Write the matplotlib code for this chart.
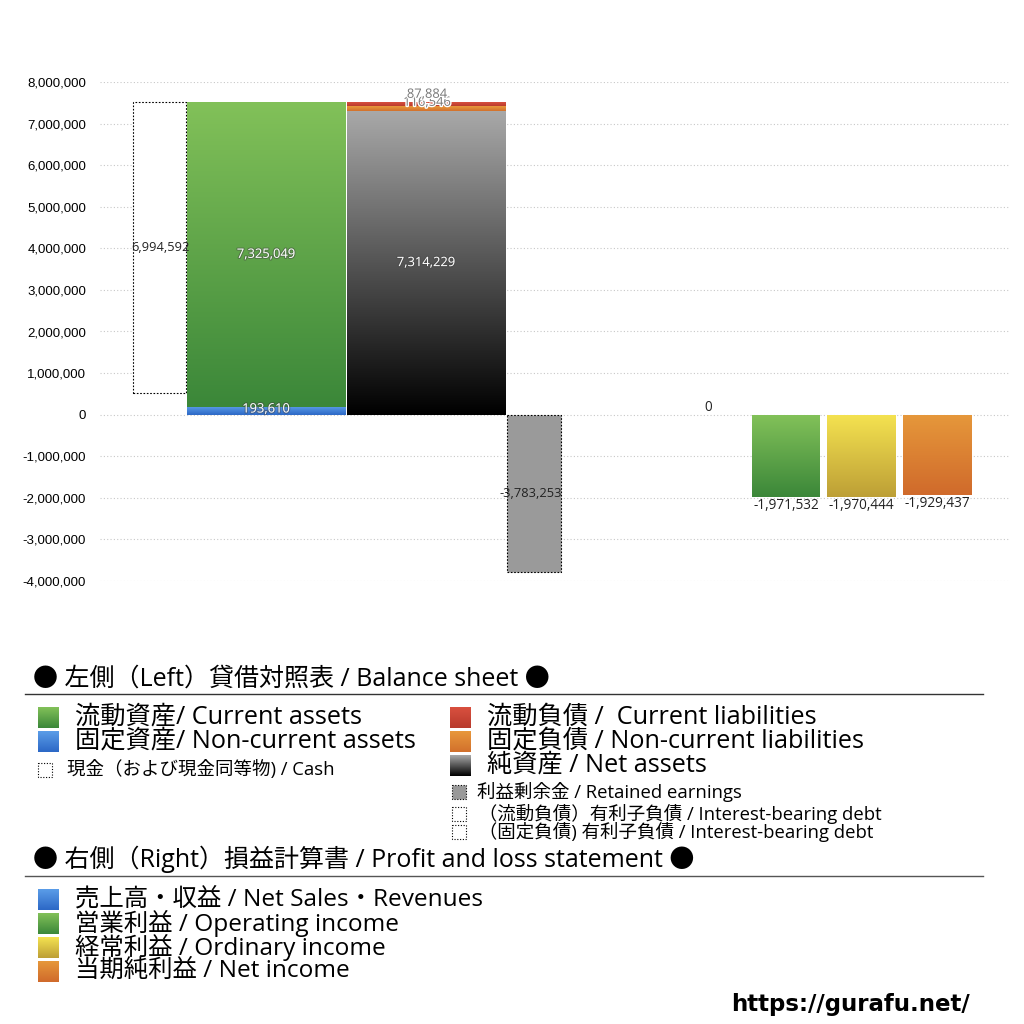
"""
貸借対照表 + 損益計算書 の比較チャート（gurafu.net 風）
出力: out.png
"""

import matplotlib
matplotlib.use("Agg")
import matplotlib.pyplot as plt
import matplotlib.patheffects as pe
import numpy as np
from matplotlib.colors import LinearSegmentedColormap
from matplotlib.patches import Rectangle

plt.rcParams["font.family"] = ["Open Sans", "Noto Sans CJK JP", "DejaVu Sans"]

# 貸借対照表 (Balance sheet)
current_assets = 7325049
noncurrent_assets = 193610
cash = 6994592
current_liab = 87884
noncurrent_liab = 116546
net_assets = 7314229
retained_earnings = -3783253

# 損益計算書 (Profit and loss)
pl_names = ["売上高", "営業利益", "経常利益", "当期純利益"]
pl_values = [0, -1971532, -1970444, -1929437]

y_ticks = list(range(-4000000, 8000001, 1000000))

# 色 (上, 下)
GREEN = ("#82c159", "#3b8739")
BLUE = ("#5b9de8", "#2c68c6")
RED = ("#d9503f", "#b83a2c")
ORANGE = ("#e8983b", "#d2702c")
NET = ("#a9a9a9", "#000000")
YELLOW = ("#f4e250", "#bd9f36")
PL_ORANGE = ("#e6983b", "#d06a2b")
PL_COLORS = [BLUE, GREEN, YELLOW, PL_ORANGE]

W, H = 1024, 1024


def grad_rect(ax, x, y0, y1, width, colors, **kw):
    """縦グラデーションの矩形 (上 -> 下)"""
    lo, hi = min(y0, y1), max(y0, y1)
    bar = ax.bar(x, hi - lo, width=width, bottom=lo, align="edge",
                 color="none", linewidth=0, **kw)[0]
    cmap = LinearSegmentedColormap.from_list("g", [colors[1], colors[0]])
    grad = np.linspace(0, 1, 256).reshape(-1, 1)
    im = ax.imshow(grad, cmap=cmap, aspect="auto", origin="lower",
                   extent=[x, x + width, lo, hi], interpolation="bicubic", zorder=2)
    im.set_clip_path(bar)
    return bar


def grad_square(ax, x, y, size, colors):
    """凡例用の四角 (ピクセル座標, y は下向き)"""
    cmap = LinearSegmentedColormap.from_list("g", [colors[0], colors[1]])
    grad = np.linspace(0, 1, 64).reshape(-1, 1)
    ax.imshow(grad, cmap=cmap, aspect="auto", extent=[x, x + size, y + size, y],
              interpolation="bicubic")


fig = plt.figure(figsize=(W / 100, H / 100), dpi=100)
ax = fig.add_axes([100 / W, 1 - 581 / H, 910 / W, 499 / H])

# --- 左側: 貸借対照表 ---
assets_total = current_assets + noncurrent_assets
cash_bottom = assets_total - cash
ax.bar(133, cash, width=53, bottom=cash_bottom, align="edge", facecolor="white",
       edgecolor="black", linewidth=0.8, linestyle=(0, (1.5, 1.5)), zorder=2)
grad_rect(ax, 187, 0, noncurrent_assets, 159, BLUE)
grad_rect(ax, 187, noncurrent_assets, assets_total, 159, GREEN)

grad_rect(ax, 347, 0, net_assets, 159, NET)
grad_rect(ax, 347, net_assets, net_assets + noncurrent_liab, 159, ORANGE)
grad_rect(ax, 347, net_assets + noncurrent_liab,
          net_assets + noncurrent_liab + current_liab, 159, RED)

ax.bar(507, retained_earnings, width=54, align="edge", facecolor="#9a9a9a",
       edgecolor="black", linewidth=0.8, linestyle=(0, (1.5, 1.5)), zorder=2)

# --- 右側: 損益計算書 ---
pl_x = [708, 752, 827, 903]
pl_w = [0, 68, 69, 69]
for x, w, v, c in zip(pl_x, pl_w, pl_values, PL_COLORS):
    if w > 0:
        grad_rect(ax, x, 0, v, w, c)

# ラベル
shadow = [pe.withStroke(linewidth=1.6, foreground="#444444", alpha=0.45)]
halo = [pe.withStroke(linewidth=2, foreground="white")]
lbl = dict(fontsize=9.3, ha="center", va="center", zorder=5)
ax.text(160, cash_bottom + cash / 2, f"{cash:,}", color="#222222", **lbl)
ax.text(266, noncurrent_assets + current_assets / 2, f"{current_assets:,}",
        color="white", path_effects=shadow, **lbl)
ax.text(266, noncurrent_assets / 2 + 40000, f"{noncurrent_assets:,}",
        color="white", path_effects=shadow, **lbl)
ax.text(426, net_assets / 2, f"{net_assets:,}", color="white",
        path_effects=shadow, **lbl)
ax.text(427, net_assets + noncurrent_liab / 2 + 140000, f"{noncurrent_liab:,}",
        color="#777777", path_effects=halo, **lbl)
ax.text(427, net_assets + noncurrent_liab + current_liab / 2 + 230000,
        f"{current_liab:,}", color="#777777", path_effects=halo, **lbl)
ax.text(531, retained_earnings / 2, f"{retained_earnings:,}", color="#222222", **lbl)

for x, w, v in zip(pl_x, pl_w, pl_values):
    if w > 0:
        ax.annotate(f"{v:,}", (x + w / 2, v), xytext=(0, -1), textcoords="offset points",
                    ha="center", va="top", fontsize=9.8, color="#222222")
    else:
        ax.annotate(f"{v:,}", (x, v), xytext=(0, 0), textcoords="offset points",
                    ha="center", va="bottom", fontsize=9.8, color="#222222")

ax.set_xlim(100, 1010)
ax.set_ylim(-4000000, 8000000)
ax.set_yticks(y_ticks)
ax.set_yticklabels([f"{t:,}" for t in y_ticks], family=["Liberation Sans"], fontsize=9.5)
ax.tick_params(axis="y", length=0, pad=10)
ax.set_xticks([])
ax.grid(axis="y", color="#c8c8c8", linestyle=(0, (1, 2)), linewidth=0.8, zorder=0)
ax.set_axisbelow(True)
for s in ax.spines.values():
    s.set_visible(False)

# --- 凡例 (ピクセル座標) ---
lg = fig.add_axes([0, 0, 1, 1], zorder=-1)
lg.set_xlim(0, W)
lg.set_ylim(H, 0)
lg.axis("off")

big = 18.2
small = 13.3
head = 18
lg.text(33, 679, "● 左側（Left）貸借対照表 / Balance sheet ●", fontsize=head, va="center")
lg.plot([25, 983], [694, 694], color="#333333", lw=1)

left_items = [("流動資産/ Current assets", GREEN, 717),
              ("固定資産/ Non-current assets", BLUE, 741)]
for text, c, y in left_items:
    grad_square(lg, 38, y - 10, 21, c)
    lg.text(75, y, text, fontsize=big, va="center")
lg.add_patch(Rectangle((38, 763), 14, 14, fill=False, lw=0.8, ls=(0, (1, 1.5))))
lg.text(67, 770, "現金（および現金同等物) / Cash", fontsize=small, va="center")

right_items = [("流動負債 /  Current liabilities", RED, 717),
               ("固定負債 / Non-current liabilities", ORANGE, 741),
               ("純資産 / Net assets", NET, 765)]
for text, c, y in right_items:
    grad_square(lg, 450, y - 10, 21, c)
    lg.text(487, y, text, fontsize=big, va="center")
lg.add_patch(Rectangle((452, 785), 14, 14, facecolor="#999999", lw=0.8,
                       edgecolor="black", ls=(0, (1, 1.5))))
lg.text(477, 792, "利益剰余金 / Retained earnings", fontsize=small, va="center")
for y, text in [(814, " （流動負債）有利子負債 / Interest-bearing debt"),
                (832, " （固定負債) 有利子負債 / Interest-bearing debt")]:
    lg.add_patch(Rectangle((452, y - 7), 14, 14, fill=False, lw=0.8, ls=(0, (1, 1.5))))
    lg.text(474, y, text, fontsize=small, va="center")

lg.text(33, 859, "● 右側（Right）損益計算書 / Profit and loss statement ●",
        fontsize=head, va="center")
lg.plot([25, 983], [876, 876], color="#555555", lw=1)

pl_legend = ["売上高・収益 / Net Sales・Revenues", "営業利益 / Operating income",
             "経常利益 / Ordinary income", "当期純利益 / Net income"]
for i, (text, c) in enumerate(zip(pl_legend, PL_COLORS)):
    y = 899 + 24 * i
    grad_square(lg, 38, y - 10, 21, c)
    lg.text(75, y, text, fontsize=17.6, va="center")

lg.text(970, 1004, "https://gurafu.net/", fontsize=16.5, fontweight="bold",
        ha="right", va="center", family=["DejaVu Sans"])

fig.savefig("out.png", dpi=100)
plt.close(fig)
